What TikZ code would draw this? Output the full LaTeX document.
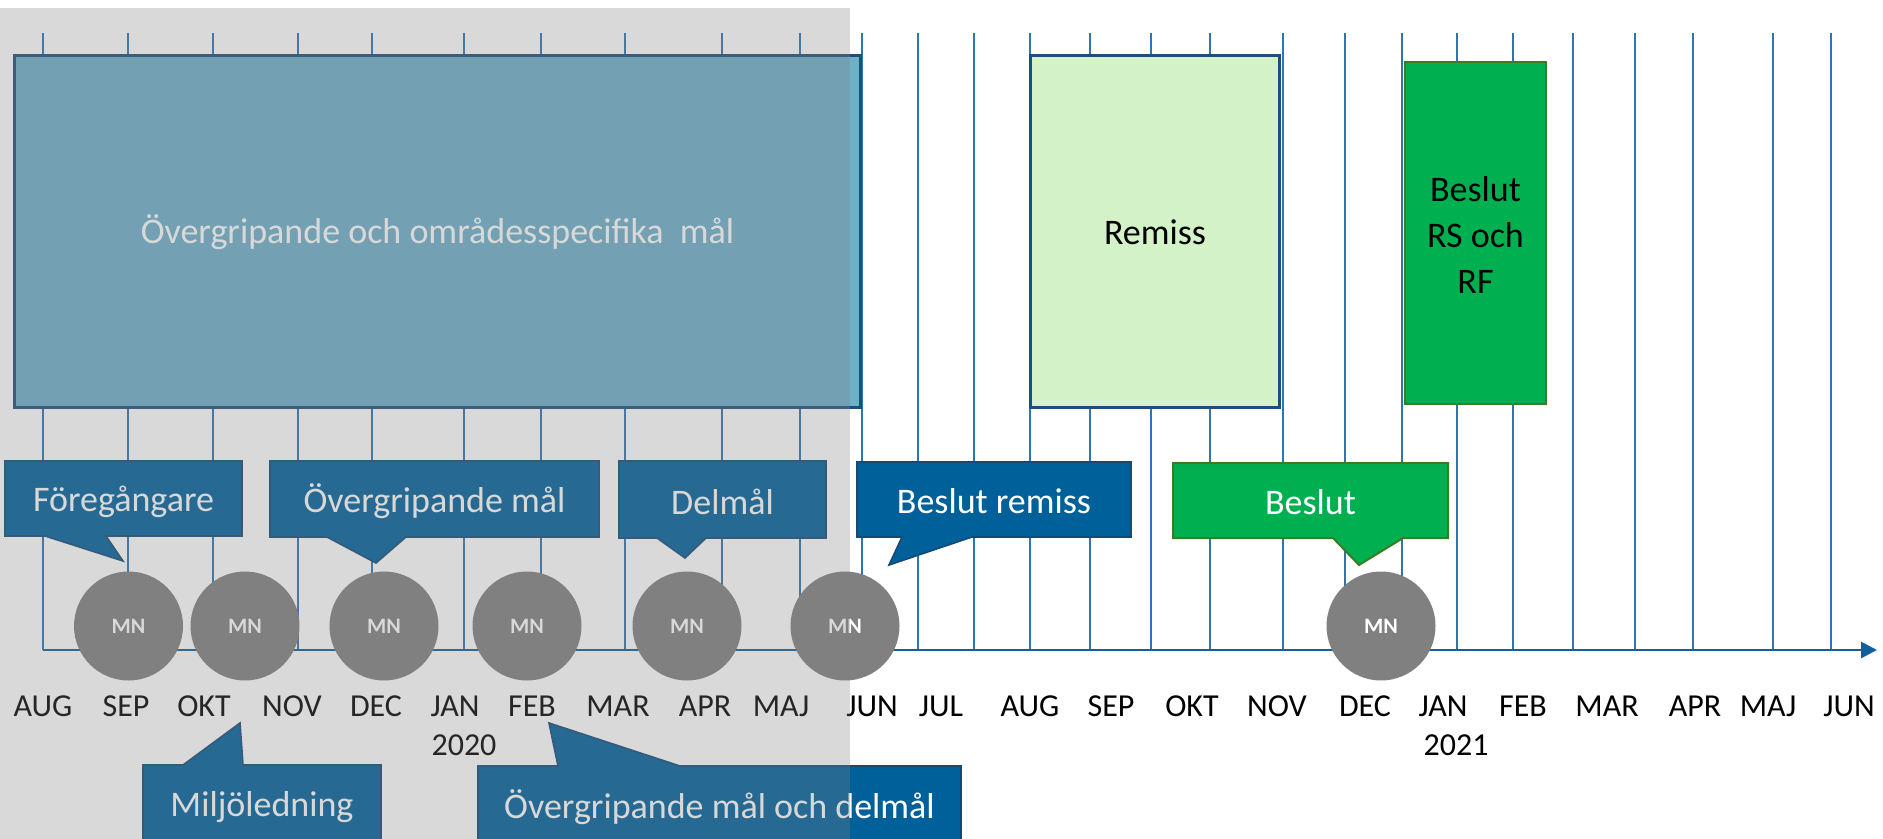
\documentclass[tikz,border=0pt]{standalone}
\usepackage{fontspec}
\setmainfont{Carlito}
\usetikzlibrary{arrows.meta}

\definecolor{gridblue}{RGB}{46,117,182}
\definecolor{axisblue}{RGB}{16,96,160}
\definecolor{tabblue}{RGB}{0,96,154}
\definecolor{tabedge}{RGB}{22,74,118}
\definecolor{goalfill}{RGB}{110,176,202}
\definecolor{navy}{RGB}{31,78,121}
\definecolor{palegreen}{RGB}{211,242,200}
\definecolor{okgreen}{RGB}{0,176,80}
\definecolor{darkgreen}{RGB}{56,125,34}
\definecolor{mngray}{RGB}{128,128,128}

\begin{document}
\begin{tikzpicture}[x=0.5pt,y=-0.5pt,
    month/.style={font=\fontsize{16}{18}\selectfont},
    label/.style={font=\fontsize{18}{23}\selectfont, align=center},
    mn/.style={circle, fill=mngray, minimum size=54.5pt, inner sep=0pt, text=white,
      font=\fontsize{11}{12}\selectfont\bfseries},
    tab/.style={fill=tabblue, draw=tabedge, line width=0.8pt, line join=miter},
    oktab/.style={fill=okgreen, draw=darkgreen, line width=1pt, line join=miter}]
    \useasboundingbox (0,0) rectangle (1883,839);
    \clip (0,0) rectangle (1883,839);

    % month grid
    \draw[gridblue, line width=0.6pt]
      (43,33) -- (43,650) (128,33) -- (128,650) (213,33) -- (213,650)
      (298,33) -- (298,650) (372,33) -- (372,650) (464,33) -- (464,650)
      (541,33) -- (541,650) (625,33) -- (625,650) (722,33) -- (722,650)
      (800,33) -- (800,650) (862,33) -- (862,650) (918,33) -- (918,650)
      (974,33) -- (974,650) (1030,33) -- (1030,650) (1090,33) -- (1090,650)
      (1151,33) -- (1151,650) (1210,33) -- (1210,650) (1283,33) -- (1283,650)
      (1345,33) -- (1345,650) (1402,33) -- (1402,650) (1457,33) -- (1457,650)
      (1513,33) -- (1513,650) (1573,33) -- (1573,650) (1635,33) -- (1635,650)
      (1693,33) -- (1693,650) (1773,33) -- (1773,650) (1831,33) -- (1831,650);

    % time axis
    \coordinate (axisStart) at (43,650);
    \coordinate (axisEnd) at (1877,650);
    \draw[axisblue, line width=1.4pt, -{Triangle[length=8pt,width=8pt]}] (axisStart) -- (axisEnd);

    % phases
    \draw[fill=goalfill, draw=navy, line width=1.5pt] (14.5,55.7) rectangle (860.6,407);
    \node[label, text=white] (goals) at (437.5,232) {Övergripande och områdesspecifika\ \ mål};

    \draw[fill=palegreen, draw=navy, line width=1.5pt] (1030.5,56) rectangle (1279.5,407);
    \node[label] (remiss) at (1155,232) {Remiss};

    \draw[fill=okgreen, draw=darkgreen, line width=1.2pt] (1405,62) rectangle (1546,404);
    \node[label] (rsrf) at (1475.5,235) {Beslut\\RS och\\RF};

    % callouts above the axis
    \coordinate (tipFore) at (123,561);
    \filldraw[tab] (5,461) -- (242,461) -- (242,536) -- (106,536) -- (tipFore) -- (45,536) -- (5,536) -- cycle;
    \node[label, text=white] (fore) at (123.5,502) {Föregångare};

    \coordinate (tipOver) at (376,563);
    \filldraw[tab] (270,461) -- (599,461) -- (599,537) -- (406,537) -- (tipOver) -- (327,537) -- (270,537) -- cycle;
    \node[label, text=white] (over) at (434.5,501) {Övergripande mål};

    \coordinate (tipDel) at (685,558);
    \filldraw[tab] (619,461) -- (826,461) -- (826,538) -- (706,538) -- (tipDel) -- (657,538) -- (619,538) -- cycle;
    \node[label, text=white] (del) at (722.5,501.5) {Delmål};

    \coordinate (tipRem) at (889,565);
    \filldraw[tab] (857,462) -- (1131,462) -- (1131,537) -- (972,537) -- (tipRem) -- (902,537) -- (857,537) -- cycle;
    \node[label, text=white] (besrem) at (994,501) {Beslut remiss};

    \coordinate (tipBes) at (1359,565);
    \filldraw[oktab] (1173,463) -- (1448,463) -- (1448,538) -- (1403,538) -- (tipBes) -- (1333,538) -- (1173,538) -- cycle;
    \node[label, text=white] (beslut) at (1310.5,502) {Beslut};

    % meetings
    \node[mn] (mn1) at (128.5,626) {MN};
    \node[mn] (mn2) at (245,626) {MN};
    \node[mn] (mn3) at (384,626) {MN};
    \node[mn] (mn4) at (527,626) {MN};
    \node[mn] (mn5) at (687,626) {MN};
    \node[mn] (mn6) at (845,626) {MN};
    \node[mn] (mn7) at (1381,626) {MN};

    % months
    \node[month] (aug19) at (43,706) {AUG};
    \node[month] (sep19) at (126,706) {SEP};
    \node[month] (okt19) at (204,706) {OKT};
    \node[month] (nov19) at (292,706) {NOV};
    \node[month] (dec19) at (376,706) {DEC};
    \node[month] (jan20) at (455,706) {JAN};
    \node[month] (feb20) at (532,706) {FEB};
    \node[month] (mar20) at (618,706) {MAR};
    \node[month] (apr20) at (705,706) {APR};
    \node[month] (maj20) at (781,706) {MAJ};
    \node[month] (jun20) at (872,706) {JUN};
    \node[month] (jul20) at (941,706) {JUL};
    \node[month] (aug20) at (1030,706) {AUG};
    \node[month] (sep20) at (1111,706) {SEP};
    \node[month] (okt20) at (1192,706) {OKT};
    \node[month] (nov20) at (1277,706) {NOV};
    \node[month] (dec20) at (1365,706) {DEC};
    \node[month] (jan21) at (1443,706) {JAN};
    \node[month] (feb21) at (1523,706) {FEB};
    \node[month] (mar21) at (1607,706) {MAR};
    \node[month] (apr21) at (1695,706) {APR};
    \node[month] (maj21) at (1768,706) {MAJ};
    \node[month] (jun21) at (1849,706) {JUN};

    \node[month] (y2020) at (464,745) {2020};
    \node[month] (y2021) at (1456,745) {2021};

    % callouts below the axis
    \coordinate (tipMil) at (240,723);
    \filldraw[tab] (143,765) -- (183,765) -- (tipMil) -- (243,765) -- (381,765) -- (381,860) -- (143,860) -- cycle;
    \node[label, text=white] (milj) at (262,807) {Miljöledning};

    \coordinate (tipBoth) at (549,723);
    \filldraw[tab] (478,766) -- (558,766) -- (tipBoth) -- (680,766) -- (961,766) -- (961,860) -- (478,860) -- cycle;
    \node[label, text=white] (both) at (719.5,807) {Övergripande mål och delmål};

    % past period
    \fill[gray, opacity=0.3] (0,8) rectangle (850,839);
\end{tikzpicture}
\end{document}
